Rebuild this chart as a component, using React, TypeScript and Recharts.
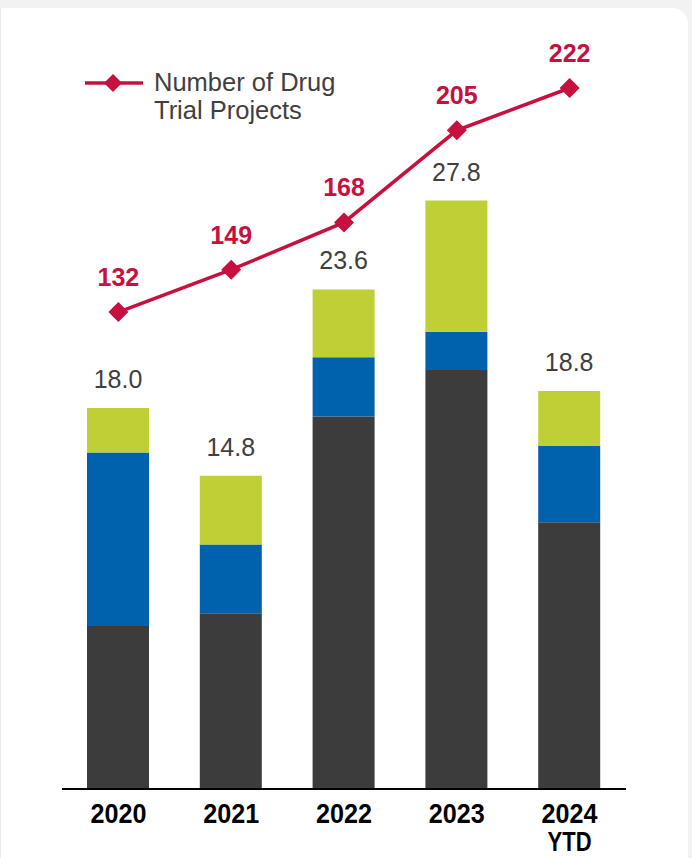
import React from 'react';
import { ComposedChart, Bar, Line, XAxis, YAxis, LabelList } from 'recharts';

const years = ['2020', '2021', '2022', '2023', '2024'];
const yearSubLabels = ['', '', '', '', 'YTD'];
const darkValues = [7.7, 8.3, 17.6, 19.8, 12.6];
const blueValues = [8.2, 3.25, 2.8, 1.8, 3.6];
const greenValues = [2.1, 3.25, 3.2, 6.2, 2.6];
const totals = [18.0, 14.8, 23.6, 27.8, 18.8];
const projects = [132, 149, 168, 205, 222];
const legendLines = ['Number of Drug', 'Trial Projects'];

const data = years.map((y, i) => ({
  year: y,
  sub: yearSubLabels[i],
  dark: darkValues[i],
  blue: blueValues[i],
  green: greenValues[i],
  total: totals[i].toFixed(1),
  projects: projects[i],
}));

const FONT = "'Liberation Sans', Arial, sans-serif";
const RED = '#c8103e';
const GRAY_TEXT = '#404040';

const Diamond = (props: any) => {
  const { cx, cy } = props;
  if (cx == null || cy == null) return null;
  const r = 10;
  return (
    <polygon
      points={`${cx},${cy - r} ${cx + r},${cy} ${cx},${cy + r} ${cx - r},${cy}`}
      fill={RED}
    />
  );
};

const TotalLabel = (props: any) => {
  const vb = props.viewBox || props;
  const x = (vb.x ?? props.x) + (vb.width ?? props.width ?? 0) / 2;
  const y = vb.y ?? props.y;
  return (
    <text x={x} y={y - 20} textAnchor="middle" fill={GRAY_TEXT} fontSize={25} fontFamily={FONT}>
      {props.value}
    </text>
  );
};

const LineLabel = (props: any) => {
  const vb = props.viewBox || props;
  const x = vb.x ?? props.x;
  const y = vb.y ?? props.y;
  return (
    <text x={x} y={y - 26} textAnchor="middle" fill={RED} fontSize={25} fontWeight="bold" fontFamily={FONT}>
      {props.value}
    </text>
  );
};

const YearTick = (props: any) => {
  const { x, y, payload, index } = props;
  const sub = yearSubLabels[index];
  return (
    <g>
      <text x={x} y={y + 32} textAnchor="middle" fill="#000" fontSize={28} fontWeight="bold" fontFamily={FONT}
        textLength={56} lengthAdjust="spacingAndGlyphs">
        {payload.value}
      </text>
      {sub ? (
        <text x={x} y={y + 60} textAnchor="middle" fill="#000" fontSize={28} fontWeight="bold" fontFamily={FONT}
          textLength={44} lengthAdjust="spacingAndGlyphs">
          {sub}
        </text>
      ) : null}
    </g>
  );
};

const LegendBox = () => (
  <div style={{ position: 'absolute', left: 85, top: 60, width: 320, height: 70 }}>
    <svg width={62} height={30} style={{ position: 'absolute', left: 0, top: 8 }}>
      <line x1={0} y1={15} x2={58} y2={15} stroke={RED} strokeWidth={3.5} />
      <polygon points="28,6 37,15 28,24 19,15" fill={RED} />
    </svg>
    <div
      style={{
        position: 'absolute',
        left: 69,
        top: 8,
        fontFamily: FONT,
        fontSize: 25.5,
        lineHeight: '28px',
        color: GRAY_TEXT,
        width: 250,
      }}
    >
      {legendLines[0]}
      <br />
      {legendLines[1]}
    </div>
  </div>
);

export default function App() {
  return (
    <div style={{ position: 'absolute', left: 0, top: 0, width: 692, height: 858, background: '#f1f2f4', overflow: 'hidden' }}>
      <div
        style={{
          position: 'absolute',
          left: 0,
          top: 8,
          width: 688,
          height: 850,
          background: '#ffffff',
          borderTopRightRadius: 16,
          borderLeft: '1px solid #ececee',
          boxSizing: 'border-box',
        }}
      />
      <div style={{ position: 'absolute', left: 0, top: 0 }}>
        <ComposedChart width={692} height={858} data={data} margin={{ top: 27, right: 66, bottom: 9, left: 62 }}>
          <XAxis
            dataKey="year"
            height={60}
            interval={0}
            tickLine={false}
            tickSize={0}
            axisLine={{ stroke: '#000', strokeWidth: 2 }}
            tick={<YearTick />}
          />
          <YAxis yAxisId="left" hide domain={[0, 36]} />
          <YAxis yAxisId="right" orientation="right" hide domain={[-59.6, 246.5]} />
          <Bar yAxisId="left" dataKey="dark" stackId="a" fill="#3c3c3c" barSize={62} isAnimationActive={false} />
          <Bar yAxisId="left" dataKey="blue" stackId="a" fill="#0061ad" barSize={62} isAnimationActive={false} />
          <Bar yAxisId="left" dataKey="green" stackId="a" fill="#bfd037" barSize={62} isAnimationActive={false}>
            <LabelList dataKey="total" content={<TotalLabel />} />
          </Bar>
          <Line
            yAxisId="right"
            dataKey="projects"
            stroke={RED}
            strokeWidth={3.5}
            dot={<Diamond />}
            activeDot={false}
            isAnimationActive={false}
          >
            <LabelList dataKey="projects" content={<LineLabel />} />
          </Line>
        </ComposedChart>
      </div>
      <LegendBox />
    </div>
  );
}
